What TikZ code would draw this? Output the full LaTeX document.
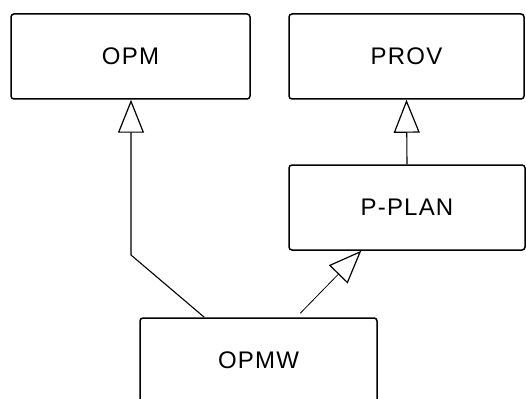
\documentclass[tikz,border=0pt]{standalone}
\usepackage{fontspec}
\setmainfont[LetterSpace=5]{Liberation Sans}
\usetikzlibrary{arrows.meta,calc}
\begin{document}
\begin{tikzpicture}[x=1pt,y=-1pt,
  box/.style={draw, line width=1.5pt, rounded corners=3pt, minimum height=85pt,
    inner sep=0pt, font=\fontsize{24}{28}\selectfont},
  gen/.style={line width=1.1pt, -{Triangle[open, length=33pt, width=26pt, line width=1.2pt]}}
]
\clip (0,0) rectangle (526,398);
\fill[white] (0,0) rectangle (526,398);

% packages
\node[box, minimum width=239pt] (opm)   at (130.5,56.5)  {OPM};
\node[box, minimum width=235pt] (prov)  at (406.5,56.5)  {PROV};
\node[box, minimum width=236pt] (pplan) at (407,207.5)   {P-PLAN};
\node[box, minimum width=237pt] (opmw)  at (258.5,360.5) {OPMW};

% generalisation links
\coordinate (bendA) at (131,255);
\draw[gen] ($(opmw.north west)+(65,0)$) -- (bendA) -- (bendA |- opm.south);
\draw[gen] (pplan.north) -- (prov.south);
\coordinate (startB) at ($(opmw.north west)+(161,-4)$);
\draw[gen, line width=0.8pt] (startB) -- ($(pplan.south west)+(73,0)$);
\end{tikzpicture}
\end{document}
